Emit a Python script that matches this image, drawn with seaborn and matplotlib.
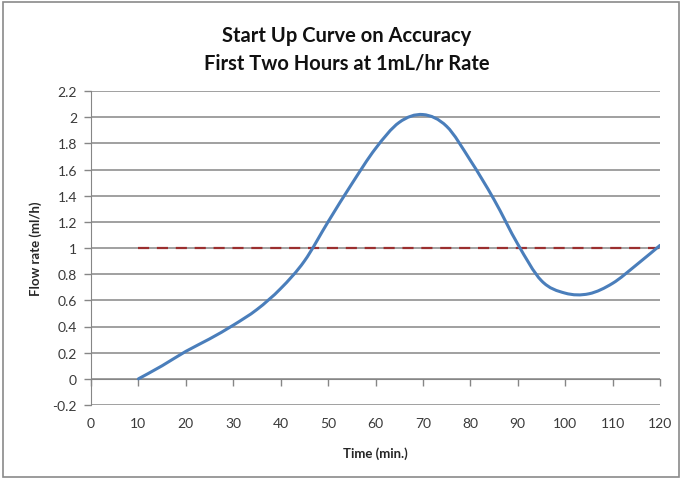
import numpy as np
import matplotlib
matplotlib.use('Agg')
import matplotlib.pyplot as plt
from matplotlib.path import Path
from matplotlib.patches import PathPatch, Rectangle
from matplotlib.ticker import FuncFormatter
import seaborn as sns

# Dados (a cada 5 min)
tempo = [10, 15, 20, 25, 30, 35, 40, 45, 50, 55, 60, 65, 70,
         75, 80, 85, 90, 95, 100, 105, 110, 115, 120]
fluxo = [0.0, 0.10, 0.21, 0.305, 0.41, 0.53, 0.69, 0.90, 1.20, 1.49, 1.76, 1.96, 2.02,
         1.93, 1.67, 1.37, 1.03, 0.75, 0.655, 0.65, 0.73, 0.87, 1.02]
alvo_x = [10, 20, 30, 40, 50, 60, 70, 80, 90, 100, 110, 120]
alvo = [1, 1, 1, 1, 1, 1, 1, 1, 1, 1, 1, 1]
x_ticks = [0, 10, 20, 30, 40, 50, 60, 70, 80, 90, 100, 110, 120]
y_ticks = [-0.2, 0, 0.2, 0.4, 0.6, 0.8, 1.0, 1.2, 1.4, 1.6, 1.8, 2.0, 2.2]

titulo = 'Start Up Curve on Accuracy\nFirst Two Hours at 1mL/hr Rate'

sns.set_style('white')
plt.rcParams['font.family'] = ['Lato', 'DejaVu Sans']
plt.rcParams['axes.unicode_minus'] = False

fig = plt.figure(figsize=(6.82, 4.81), dpi=100)
ax = fig.add_axes([91 / 682, 1 - 406 / 481, (660 - 91) / 682, (406 - 92) / 481])

cinza = '#868686'
for v in y_ticks:
    ax.axhline(v, color=cinza, lw=1.1, zorder=1)

# Linha de referencia (1 ml/h)
sns.lineplot(x=alvo_x, y=alvo, ax=ax, color='#9B2F2F', lw=1.6, zorder=3)
ax.lines[-1].set_dashes([5, 3.5])

# Curva suavizada (estilo Excel: bezier passando pelos pontos)
pts = np.column_stack([tempo, fluxo])
n = len(pts)
verts = [pts[0]]
codes = [Path.MOVETO]
for i in range(n - 1):
    p_prev = pts[max(i - 1, 0)]
    p0 = pts[i]
    p1 = pts[i + 1]
    p_next = pts[min(i + 2, n - 1)]
    c1 = p0 + (p1 - p_prev) / 6
    c2 = p1 - (p_next - p0) / 6
    verts += [c1, c2, p1]
    codes += [Path.CURVE4] * 3
ax.add_patch(PathPatch(Path(verts, codes), facecolor='none', edgecolor='#4A7EBB',
                       lw=2.2, zorder=4, capstyle='round'))

ax.set_xlim(0, 120)
ax.set_ylim(-0.2, 2.2)
ax.set_yticks(y_ticks)
ax.yaxis.set_major_formatter(FuncFormatter(lambda v, p: '%g' % round(v, 1)))
ax.set_xticks(x_ticks)

for s in ['top', 'right']:
    ax.spines[s].set_visible(False)
ax.spines['left'].set_color(cinza)
ax.spines['bottom'].set_color(cinza)
ax.spines['bottom'].set_position(('data', 0))
ax.tick_params(axis='y', direction='out', length=5, width=1, color=cinza, pad=5,
               labelsize=10, labelcolor='#3a3a3a', left=True)
ax.tick_params(axis='x', direction='out', length=5, width=1, color=cinza,
               labelbottom=False, bottom=True)

sec = ax.secondary_xaxis(0.0)
sec.set_xticks(x_ticks)
sec.spines['bottom'].set_visible(False)
sec.tick_params(length=0, pad=9, labelsize=10, labelcolor='#3a3a3a')

ax.set_ylabel('Flow rate (ml/h)', fontsize=9.5, fontweight='bold', labelpad=8)
sec.set_xlabel('Time (min.)', fontsize=9.5, fontweight='bold', labelpad=12)

fig.text(0.508, 1 - 50 / 481, titulo, ha='center', va='center', fontsize=14.5,
         fontweight='bold', linespacing=1.45, color='#111111')

fig.patches.append(Rectangle((3 / 682, 3 / 481), 676 / 682, 475 / 481,
                             transform=fig.transFigure, fill=False,
                             edgecolor='#8a8a8a', lw=1.2))

fig.savefig('out.png', dpi=100)
